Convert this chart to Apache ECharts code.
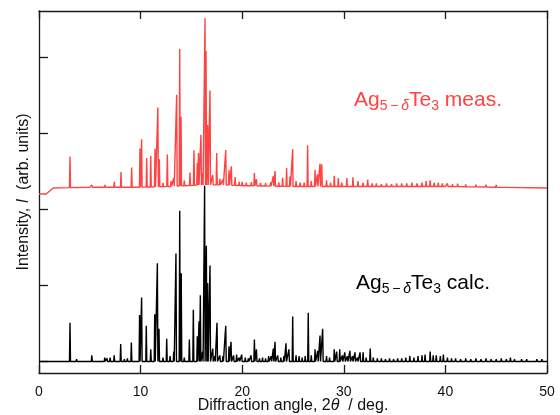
<!DOCTYPE html>
<html>
<head>
<meta charset="utf-8">
<script src="https://cdn.jsdelivr.net/npm/echarts@6/dist/echarts.min.js"></script>
<style>html,body{margin:0;padding:0;background:#fff}#c{width:560px;height:415px}</style>
</head>
<body>
<div id="c"></div>
<script>
// ---- data (angle in deg, intensity in arb. units; 100 = one tick) ----
const xTickValues = [0, 10, 20, 30, 40, 50];
const yTickValues = [0, 100, 200, 300, 400];

const calcPeakAngle = [3.05,3.7,4.2,5.2,5.8,6.47,6.7,7.0,7.4,8.04,8.4,8.7,9.09,9.9,10.1,10.56,11.0,11.39,11.65,11.81,12.2,12.57,12.9,13.26,13.48,13.85,14.0,14.3,14.8,15.19,15.58,15.75,15.88,16.1,16.3,16.47,16.6,16.83,17.1,17.3,17.52,17.8,18.1,18.38,18.7,18.9,19.15,19.45,19.7,19.95,20.3,20.6,20.87,21.2,21.4,21.7,22.0,22.3,22.6,22.85,23.06,23.23,23.5,23.8,24.1,24.31,24.6,24.97,25.3,25.6,25.9,26.2,26.5,26.8,27.17,27.43,27.66,27.92,28.3,28.6,29.06,29.3,29.6,29.85,30.1,30.35,30.6,30.85,31.1,31.35,31.6,31.9,32.2,32.6,32.9,33.3,33.7,34.1,34.5,34.9,35.3,35.7,36.1,36.5,36.9,37.3,37.7,38.0,38.5,38.8,39.1,39.5,39.8,40.2,40.6,41.0,41.5,42.0,42.5,43.0,43.5,44.0,44.5,45.0,45.5,46.0,46.4,46.8,47.5,48.0,48.5,49.0,49.5];
const calcPeakHeight = [51,3,2,8,2,5,4,5,8,23,3,4,25,61,84,47,16,62,129,43,5,30,7,13,142,198,116,5,29,68,33,53,87,13,231,152,103,126,17,7,51,8,7,47,20,26,8,9,5,9,5,4,8,29,16,4,5,4,7,7,17,26,8,5,7,24,16,59,8,7,5,7,64,8,16,14,34,43,7,5,16,13,16,8,12,7,14,7,12,5,12,12,5,17,5,4,4,3,4,3,4,4,5,7,5,7,8,9,13,8,8,7,9,5,4,4,3,4,3,4,3,4,3,3,4,3,5,3,3,3,2,3,3];
const calcBaseAngle = [0, 50];
const calcBaseLevel = [0, 0];

const measPeakAngle = [3.05,5.2,6.5,7.41,8.07,9.12,9.94,10.1,10.6,11.0,11.42,11.7,11.84,12.2,12.63,13.0,13.26,13.55,13.85,13.98,14.3,14.86,15.25,15.58,15.7,15.94,16.1,16.34,16.44,16.6,16.83,17.1,17.49,17.8,18.1,18.38,18.7,18.93,19.3,19.7,20.0,20.4,20.9,21.2,21.4,21.8,22.3,22.8,23.06,23.23,23.6,23.98,24.37,24.7,24.97,25.3,25.7,26.1,26.44,26.8,27.17,27.4,27.66,27.83,28.3,28.7,29.06,29.46,29.8,30.3,30.9,31.4,31.9,32.35,32.8,33.2,33.7,34.2,34.7,35.2,35.7,36.2,36.7,37.2,37.7,38.1,38.5,38.9,39.3,39.7,40.2,40.7,41.2,42.0,43.0,44.0,45.0,46.0];
const measPeakHeight = [41,3,3,7,20,26,51,63,38,41,50,104,36,5,42,7,11,120,180,91,7,17,46,29,42,66,16,219,176,79,124,13,42,8,7,46,20,25,11,5,5,4,5,17,9,4,4,5,13,20,5,11,24,13,49,7,5,5,54,7,22,16,30,29,8,5,14,11,5,11,12,7,5,9,4,4,3,4,3,4,4,4,5,4,5,7,8,5,5,4,4,3,4,3,3,3,3,2];
const measBaseAngle = [0, 0.7, 1.4, 5, 10, 13, 16, 18, 20, 25, 30, 40, 50];
const measBaseLevel = [220, 220, 228, 229, 229, 230, 232, 232, 231, 230, 230, 230, 228];

// ---- build stick-pattern line data from the arrays ----
function baseAt(angles, levels, a) {
  for (let i = 0; i < angles.length - 1; i++) {
    if (a >= angles[i] && a <= angles[i + 1]) {
      const t = (a - angles[i]) / (angles[i + 1] - angles[i]);
      return levels[i] + t * (levels[i + 1] - levels[i]);
    }
  }
  return levels[levels.length - 1];
}
function buildPattern(pA, pH, bA, bL) {
  const w = 0.05;
  const pts = [];
  for (let i = 0; i < bA.length; i++) pts.push([bA[i], bL[i]]);
  for (let i = 0; i < pA.length; i++) {
    const b = baseAt(bA, bL, pA[i]);
    pts.push([pA[i] - w, baseAt(bA, bL, pA[i] - w)]);
    pts.push([pA[i], b + pH[i]]);
    pts.push([pA[i] + w, baseAt(bA, bL, pA[i] + w)]);
  }
  pts.sort((p, q) => p[0] - q[0]);
  return pts;
}

const FONT = '"Liberation Sans", Arial, Helvetica, sans-serif';
const RED = '#ff4242';

const chart = echarts.init(document.getElementById('c'), null, { renderer: 'canvas' });
const axisLine = { show: true, onZero: false, lineStyle: { color: '#1a1a1a', width: 1.3 } };

function labelRich(color) {
  return {
    m: { fontSize: 21, fontFamily: FONT, fill: color, lineHeight: 26, verticalAlign: 'middle' },
    s: { fontSize: 14, fontFamily: FONT, fill: color, lineHeight: 14, verticalAlign: 'bottom' },
    d: { fontSize: 14, fontFamily: FONT, fill: color, fontStyle: 'italic', lineHeight: 14, verticalAlign: 'bottom' }
  };
}

chart.setOption({
  animation: false,
  backgroundColor: '#fff',
  grid: { left: 39, right: 13, top: 11, bottom: 42, containLabel: false, outerBoundsMode: 'none' },
  xAxis: [
    {
      type: 'value', position: 'bottom', min: 0, max: 50, interval: 10,
      axisLine: axisLine,
      axisTick: { show: true, inside: true, length: 8, lineStyle: { color: '#1a1a1a', width: 1.3 } },
      axisLabel: { show: true, margin: 12, fontSize: 14, fontFamily: FONT, color: '#111', customValues: xTickValues },
      splitLine: { show: false },
      name: 'Diffraction angle, 2{i|θ}  / deg.',
      nameLocation: 'middle', nameGap: 25, nameMoveOverlap: false,
      nameTextStyle: { fontSize: 16, fontFamily: FONT, color: '#111',
        rich: { i: { fontStyle: 'italic', fontSize: 16, fontFamily: FONT, color: '#111' } } }
    },
    {
      type: 'value', position: 'top', min: 0, max: 50, interval: 10,
      axisLine: axisLine,
      axisTick: { show: true, inside: true, length: 8, lineStyle: { color: '#1a1a1a', width: 1.3 } },
      axisLabel: { show: false }, splitLine: { show: false }
    }
  ],
  yAxis: [
    {
      type: 'value', position: 'left', min: -15.1, max: 460.5,
      axisLine: axisLine,
      axisTick: { show: true, inside: true, length: 9, customValues: yTickValues, lineStyle: { color: '#1a1a1a', width: 1.3 } },
      axisLabel: { show: false }, splitLine: { show: false },
      name: 'Intensity, {i|I}  (arb. units)',
      nameLocation: 'middle', nameGap: 7, nameRotate: 90, nameMoveOverlap: false,
      nameTextStyle: { fontSize: 16, fontFamily: FONT, color: '#111',
        rich: { i: { fontStyle: 'italic', fontSize: 16, fontFamily: FONT, color: '#111' } } }
    },
    {
      type: 'value', position: 'right', min: -15.1, max: 460.5,
      axisLine: axisLine, axisTick: { show: false },
      axisLabel: { show: false }, splitLine: { show: false }
    }
  ],
  series: [
    {
      name: 'calc', type: 'line', xAxisIndex: 0, yAxisIndex: 0,
      data: buildPattern(calcPeakAngle, calcPeakHeight, calcBaseAngle, calcBaseLevel),
      showSymbol: false, symbol: 'none', sampling: null,
      lineStyle: { color: '#000', width: 1.4 }
    },
    {
      name: 'meas', type: 'line', xAxisIndex: 0, yAxisIndex: 0,
      data: buildPattern(measPeakAngle, measPeakHeight, measBaseAngle, measBaseLevel),
      showSymbol: false, symbol: 'none', sampling: null,
      lineStyle: { color: RED, width: 1.4 }
    }
  ],
  graphic: [
    {
      type: 'text', left: 354, top: 90,
      style: {
        text: '{m|Ag}{s|5\u2009\u2212\u2009}{d|δ}{m|Te}{s|3}{m| meas.}',
        fill: RED, rich: labelRich(RED)
      }
    },
    {
      type: 'text', left: 356, top: 273,
      style: {
        text: '{m|Ag}{s|5\u2009\u2212\u2009}{d|δ}{m|Te}{s|3}{m| calc.}',
        fill: '#000', rich: labelRich('#000')
      }
    }
  ]
});
</script>
</body>
</html>
